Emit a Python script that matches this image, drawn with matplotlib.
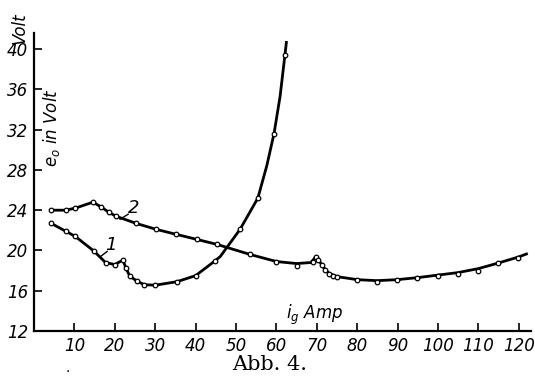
import matplotlib
matplotlib.use("Agg")
import matplotlib.pyplot as plt

# Curve 1 (measured points)
x1 = [4.2, 7.9, 10.2, 14.8, 17.7, 20.0, 22.0, 22.7, 23.7, 25.5, 27.3, 30.0, 35.4, 40.0, 44.9, 51.0, 55.4, 59.4, 62.1]
y1 = [22.7, 21.9, 21.4, 19.95, 18.8, 18.6, 19.05, 18.3, 17.45, 16.95, 16.6, 16.55, 16.9, 17.5, 19.0, 22.1, 25.2, 31.6, 39.4]
# Curve 1 drawn line (traced)
lx1 = [4.2, 7.9, 10.2, 14.8, 17.7, 20.0, 22.0, 22.7, 23.7, 25.5, 27.3, 30.0, 35.4, 40.0, 44.9, 46.1, 51.0, 55.4, 57.6, 59.4, 60.9, 62.1, 62.5]
ly1 = [22.7, 21.9, 21.4, 19.95, 18.8, 18.6, 19.05, 18.3, 17.45, 16.95, 16.6, 16.55, 16.9, 17.5, 19.0, 19.4, 22.1, 25.2, 28.4, 31.6, 35.3, 39.4, 40.8]

# Curve 2 (measured points)
x2 = [4.2, 7.8, 10.2, 14.6, 16.7, 18.5, 20.3, 25.2, 30.2, 35.2, 40.3, 45.3, 53.5, 60.0, 65.0,
      69.1, 69.8, 70.4, 71.2, 72.1, 73.1, 74.1, 75.0, 80.0, 84.9, 89.9, 94.9, 99.9, 104.9, 110.0, 114.9, 119.9]
y2 = [24.0, 24.0, 24.2, 24.8, 24.3, 23.8, 23.4, 22.7, 22.1, 21.6, 21.1, 20.6, 19.6, 18.9, 18.5,
      18.9, 19.4, 19.05, 18.6, 18.1, 17.7, 17.5, 17.4, 17.05, 16.9, 17.05, 17.25, 17.5, 17.7, 18.0, 18.75, 19.3]
# Curve 2 drawn line (traced)
lx2 = [4.2, 7.8, 10.2, 14.6, 16.7, 18.5, 20.3, 25.2, 30.2, 35.2, 40.3, 45.3, 53.5, 60.0, 65.0,
       68.5, 69.8, 71.2, 72.1, 73.1, 75.0, 80.0, 84.9, 89.9, 94.9, 99.9, 104.9, 110.0, 114.9, 119.9, 122.2]
ly2 = [24.0, 24.0, 24.2, 24.8, 24.3, 23.8, 23.4, 22.7, 22.1, 21.6, 21.1, 20.6, 19.6, 18.9, 18.7,
       18.8, 19.4, 18.6, 18.1, 17.7, 17.4, 17.1, 17.0, 17.1, 17.3, 17.55, 17.8, 18.2, 18.75, 19.35, 19.7]

xticks = [10, 20, 30, 40, 50, 60, 70, 80, 90, 100, 110, 120]
yticks = [12, 16, 20, 24, 28, 32, 36, 40]

SANS = ['Liberation Sans Narrow', 'DejaVu Sans']
plt.rcParams['mathtext.fontset'] = 'custom'
plt.rcParams['mathtext.it'] = 'Liberation Sans Narrow:italic'
plt.rcParams['mathtext.rm'] = 'Liberation Sans Narrow:italic'

fig = plt.figure(figsize=(5.35, 3.78), dpi=100)
ax = fig.add_axes([34/535, 1 - 331/378, 497/535, 298/378])
ax.set_xlim(0, 123)
ax.set_ylim(12, 41.6)

ax.plot(lx1, ly1, color='black', lw=2.0, solid_capstyle='butt', zorder=2)
ax.plot(lx2, ly2, color='black', lw=2.0, solid_capstyle='butt', zorder=2)
ax.plot(x1, y1, 'o', ms=3.3, mfc='white', mec='black', mew=0.9, zorder=3)
ax.plot(x2, y2, 'o', ms=3.3, mfc='white', mec='black', mew=0.9, zorder=3)

for s in ['top', 'right']:
    ax.spines[s].set_visible(False)
for s in ['left', 'bottom']:
    ax.spines[s].set_linewidth(1.6)

ax.set_xticks(xticks)
ax.set_yticks(yticks)
ax.set_xticklabels([str(v) for v in xticks], family=SANS, style='italic', fontsize=12)
ax.set_yticklabels([str(v) for v in yticks], family=SANS, style='italic', fontsize=12)
ax.tick_params(direction='in', length=6, width=1.2, pad=4)

# curve labels with leader lines
ax.plot([21.3, 23.3], [23.1, 23.6], color='black', lw=1.0)
ax.text(24.6, 24.2, '2', family=SANS, style='italic', fontsize=13, ha='center', va='center')
ax.plot([16.3, 18.1], [19.35, 19.9], color='black', lw=1.0)
ax.text(19.0, 20.5, '1', family=SANS, style='italic', fontsize=13, ha='center', va='center')

# axis titles
fig.text(20/535, 1 - 28/378, 'Volt', family=SANS, style='italic', fontsize=12,
         rotation=90, ha='center', va='center')
fig.text(52/535, 1 - 128/378, r'$e_o$ in Volt', family=SANS, style='italic', fontsize=12,
         rotation=90, ha='center', va='center')
ax.text(69.5, 13.6, r'$i_g$ Amp', family=SANS, style='italic', fontsize=12,
        ha='center', va='center')

fig.text(270/535, 1 - 365/378, 'Abb. 4.', family=['DejaVu Serif'], fontsize=15,
         ha='center', va='center')
fig.text(68/535, 1 - 368/378, '.', fontsize=10, ha='center', va='center')

fig.savefig('out.png', dpi=100)
